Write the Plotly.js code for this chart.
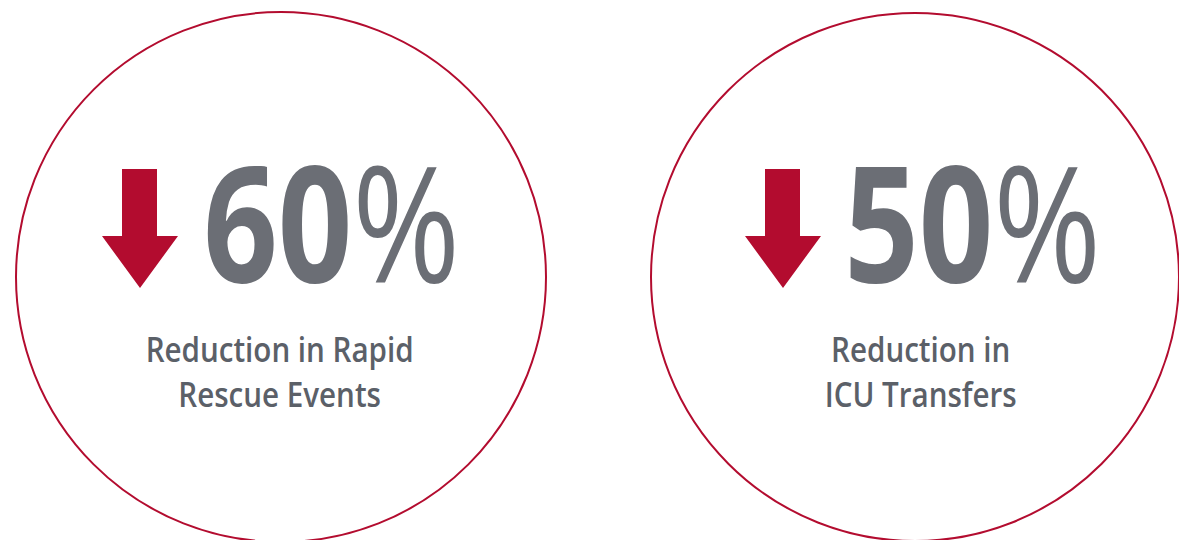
<!DOCTYPE html>
<html>
<head>
<meta charset="utf-8">
<script src="https://cdn.plot.ly/plotly-3.0.1.min.js"></script>
<style>
html,body{margin:0;padding:0;background:#fff;}
#chart{width:1179px;height:540px;}
.annotation[data-index="0"] text.annotation-text,
.annotation[data-index="2"] text.annotation-text{transform-box:fill-box;transform-origin:50% 50%;transform:scaleX(0.81);}
.annotation[data-index="1"] text.annotation-text,
.annotation[data-index="3"] text.annotation-text{transform-box:fill-box;transform-origin:50% 50%;transform:scaleX(0.845);}
</style>
</head>
<body>
<div id="chart"></div>
<script>
// ---- data ----
const values = [60, 50];
const labels = ["Reduction in Rapid<br>Rescue Events", "Reduction in<br>ICU Transfers"];
const direction = ["down", "down"];

// ---- layout helpers (positions/styles) ----
const centersX = [281, 915];
const radii = [265, 264];
const centerY = 277;
const arrowX = [140, 783];
const numX = [331, 972];
const labelX = [279, 920];
const RED = "#b30c2f";
const GREY_NUM = "#6b6e75";
const GREY_TXT = "#5b6068";
const FONT = "Open Sans, Noto Sans, DejaVu Sans, sans-serif";

const shapes = [];
const annotations = [];
values.forEach((v, i) => {
  const cx = centersX[i], r = radii[i];
  shapes.push({type: "circle", xref: "x", yref: "y",
    x0: cx - r, x1: cx + r, y0: centerY - r, y1: centerY + r,
    line: {color: RED, width: 2}, fillcolor: "rgba(0,0,0,0)"});
  const ax = arrowX[i];
  const path = direction[i] === "down"
    ? `M ${ax-18} 169 L ${ax+17} 169 L ${ax+17} 236 L ${ax+38} 236 L ${ax} 288 L ${ax-38} 236 L ${ax-18} 236 Z`
    : "";
  shapes.push({type: "path", xref: "x", yref: "y", path: path,
    fillcolor: RED, line: {width: 0}});
});
values.forEach((v, i) => {
  annotations.push({xref: "x", yref: "y", x: numX[i], y: 331, xanchor: "center", yanchor: "bottom",
    showarrow: false,
    text: "<b>" + v + "</b><span style='font-weight:400'>%</span>",
    font: {family: FONT, size: 161, color: GREY_NUM, weight: 700}});
  annotations.push({xref: "x", yref: "y", x: labelX[i], y: 323, xanchor: "center", yanchor: "top",
    showarrow: false, text: labels[i], align: "center",
    font: {family: FONT, size: 35, color: GREY_TXT, weight: 600}});
});

const layout = {
  width: 1179, height: 540,
  margin: {l: 0, r: 0, t: 0, b: 0},
  paper_bgcolor: "#ffffff", plot_bgcolor: "#ffffff",
  showlegend: false,
  xaxis: {range: [0, 1179], visible: false, fixedrange: true},
  yaxis: {range: [540, 0], visible: false, fixedrange: true},
  shapes: shapes,
  annotations: annotations
};

Plotly.newPlot("chart", [{x: [], y: [], type: "scatter", hoverinfo: "skip"}], layout, {staticPlot: true, displayModeBar: false});
</script>
</body>
</html>
